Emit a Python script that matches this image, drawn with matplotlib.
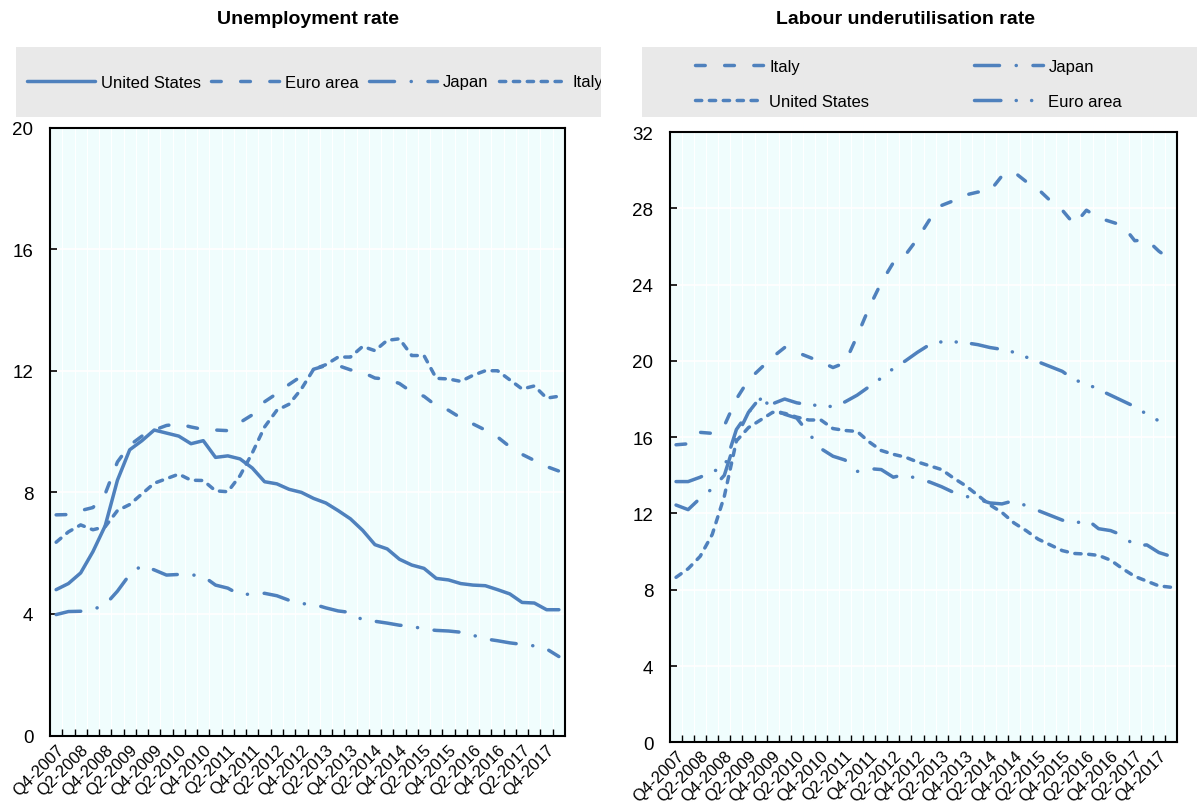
import numpy as np
import matplotlib.pyplot as plt
from matplotlib.patches import Rectangle

plt.rcParams['font.family'] = ['Liberation Sans', 'DejaVu Sans']
plt.rcParams['lines.scale_dashes'] = False

# quarters Q4-2007 .. Q1-2018
quarters = [f'Q{q}-{y}' for y in range(2007, 2019) for q in range(1, 5)][3:45]
tick_labels = quarters[::2]

# Unemployment rate (%)
unemp_us = [4.8, 5.0, 5.35, 6.05, 6.9, 8.4, 9.4, 9.7, 10.05, 9.95, 9.85, 9.6, 9.7, 9.15,
            9.2, 9.1, 8.8, 8.35, 8.28, 8.1, 8.0, 7.8, 7.65, 7.4, 7.13, 6.75, 6.28, 6.14,
            5.8, 5.61, 5.5, 5.17, 5.12, 5.0, 4.95, 4.93, 4.8, 4.66, 4.38, 4.36, 4.14, 4.14]
unemp_euro = [7.26, 7.27, 7.4, 7.5, 7.95, 9.0, 9.55, 9.85, 10.05, 10.2, 10.25, 10.15, 10.07, 10.05,
              10.03, 10.3, 10.55, 10.98, 11.25, 11.55, 11.82, 12.05, 12.17, 12.17, 12.03, 11.95, 11.76, 11.72,
              11.58, 11.3, 11.16, 10.85, 10.7, 10.45, 10.25, 10.05, 9.82, 9.5, 9.25, 9.05, 8.85, 8.7]
unemp_japan = [3.98, 4.08, 4.09, 4.15, 4.3, 4.75, 5.3, 5.6, 5.45, 5.28, 5.3, 5.29, 5.24, 4.95,
               4.85, 4.63, 4.66, 4.68, 4.6, 4.45, 4.34, 4.32, 4.2, 4.1, 4.05, 3.8, 3.76, 3.7,
               3.63, 3.6, 3.5, 3.46, 3.44, 3.4, 3.3, 3.18, 3.12, 3.05, 3.0, 2.95, 2.85, 2.6]
unemp_italy = [6.36, 6.7, 6.93, 6.77, 6.87, 7.4, 7.6, 7.95, 8.3, 8.45, 8.6, 8.4, 8.39, 8.05,
               8.02, 8.55, 9.3, 10.15, 10.7, 10.9, 11.4, 12.05, 12.2, 12.45, 12.45, 12.8, 12.66, 13.0,
               13.05, 12.5, 12.5, 11.75, 11.73, 11.65, 11.85, 12.0, 12.0, 11.7, 11.4, 11.5, 11.1, 11.16]

# Labour underutilisation rate (%)
under_italy = [15.6, 15.65, 16.25, 16.2, 16.6, 18.0, 19.0, 19.6, 20.2, 20.7, 20.45, 20.2, 19.95, 19.65,
               19.9, 21.3, 22.8, 24.1, 25.15, 25.55, 26.4, 27.4, 28.15, 28.4, 28.7, 28.85, 28.9, 29.7,
               29.9, 29.4, 29.0, 28.4, 27.9, 27.15, 27.9, 27.5, 27.3, 27.1, 26.3, 26.35, 25.75, 25.3]
under_us = [8.65, 9.1, 9.75, 10.9, 12.9, 15.8, 16.5, 16.9, 17.3, 17.25, 17.05, 16.9, 16.9, 16.45,
            16.35, 16.3, 15.75, 15.3, 15.1, 14.95, 14.7, 14.5, 14.3, 13.85, 13.45, 12.95, 12.45, 12.05,
            11.5, 11.1, 10.65, 10.35, 10.05, 9.9, 9.87, 9.8, 9.55, 9.1, 8.7, 8.45, 8.2, 8.13]
under_japan = [12.44, 12.2, 12.8, 13.3, 14.0, 16.0, 17.3, 18.1, 17.5, 17.2, 17.0, 16.2, 15.4, 15.0,
               14.8, 14.2, 14.35, 14.3, 13.9, 14.05, 13.8, 13.65, 13.4, 13.1, 12.9, 12.75, 12.55, 12.5,
               12.67, 12.4, 12.15, 11.9, 11.65, 11.45, 11.7, 11.2, 11.1, 10.85, 10.3, 10.35, 9.95, 9.75]
under_euro = [13.67, 13.67, 13.9, 14.2, 14.4, 16.4, 17.3, 18.0, 17.75, 18.0, 17.8, 17.7, 17.65, 17.6,
              17.85, 18.2, 18.65, 19.1, 19.6, 20.0, 20.45, 20.85, 21.0, 21.0, 20.95, 20.85, 20.7, 20.6,
              20.45, 20.2, 19.95, 19.7, 19.45, 19.0, 18.8, 18.5, 18.2, 17.9, 17.6, 17.2, 16.85, 16.6]

blue = '#4F81BD'
solid = '-'
long_dash = (0, (7, 14))
short_dash = (0, (4.5, 5.5))
dash_dot = (0, (18, 12, 0.1, 12))
dash_dot_dot = (0, (19, 11, 0.1, 11, 0.1, 11))

W, H = 1197, 804
fig = plt.figure(figsize=(W / 100, H / 100), dpi=100)


def style_axes(ax, ymax):
    n = len(quarters)
    ax.set_facecolor('#f0fdfd')
    ax.set_xlim(-0.5, n - 0.5)
    ax.set_ylim(0, ymax)
    ax.set_yticks(np.arange(0, ymax + 1, 4))
    ax.set_xticks(np.arange(0.5, n - 1, 1))
    ax.set_xticklabels([])
    ax.set_xticks(np.arange(0, n, 2), tick_labels, minor=True, rotation=45,
                  ha='right', rotation_mode='anchor', fontsize=12)
    ax.tick_params(axis='x', which='major', direction='in', length=5, width=1)
    ax.tick_params(axis='x', which='minor', length=0, pad=4)
    ax.tick_params(axis='y', direction='in', length=5, width=1.2, labelsize=13.5, pad=12)
    ax.grid(axis='y', color='white', lw=1.3)
    ax.grid(axis='x', which='major', color='white', lw=0.8)
    ax.set_axisbelow(True)
    for s in ax.spines.values():
        s.set_linewidth(1.5)
        s.set_color('black')


def px_axes(x0, x1, ytop, ybot):
    return fig.add_axes([x0 / W, 1 - ybot / H, (x1 - x0) / W, (ybot - ytop) / H])


x = np.arange(len(quarters))
kw = dict(color=blue, lw=2.5, dash_capstyle='round', solid_capstyle='round')

# left panel
ax1 = px_axes(50, 565, 128.5, 736.6)
style_axes(ax1, 20)
l_us, = ax1.plot(x, unemp_us, ls=solid, label='United States', **kw)
l_eu, = ax1.plot(x, unemp_euro, ls=long_dash, label='Euro area', **kw)
l_jp, = ax1.plot(x, unemp_japan, ls=dash_dot, label='Japan', **kw)
l_it, = ax1.plot(x, unemp_italy, ls=short_dash, label='Italy', **kw)

# right panel
ax2 = px_axes(670, 1177, 133, 743.3)
style_axes(ax2, 32)
r_it, = ax2.plot(x, under_italy, ls=long_dash, label='Italy', **kw)
r_us, = ax2.plot(x, under_us, ls=short_dash, label='United States', **kw)
r_jp, = ax2.plot(x, under_japan, ls=dash_dot, label='Japan', **kw)
r_eu, = ax2.plot(x, under_euro, ls=dash_dot_dot, label='Euro area', **kw)

# legend backgrounds
box1 = Rectangle((16 / W, 1 - 118 / H), 585 / W, 70 / H, transform=fig.transFigure,
                 facecolor='#e9e9e9', edgecolor='none', zorder=0)
box2 = Rectangle((642 / W, 1 - 118 / H), 555 / W, 70 / H, transform=fig.transFigure,
                 facecolor='#e9e9e9', edgecolor='none', zorder=0)
fig.add_artist(box1)
fig.add_artist(box2)

leg1 = fig.legend(handles=[l_us, l_eu, l_jp, l_it], loc='center left',
                  bbox_to_anchor=(27 / W, 1 - 83 / H), ncol=4, frameon=False,
                  fontsize=12, handlelength=4.1, handletextpad=0.35,
                  columnspacing=0.6, borderpad=0, borderaxespad=0)
for t in leg1.get_texts():
    t.set_clip_path(box1)

leg2 = fig.legend(handles=[r_it, r_us, r_jp, r_eu], loc='center left',
                  bbox_to_anchor=(695 / W, 1 - 85 / H), ncol=2, frameon=False,
                  fontsize=12, handlelength=4.1, handletextpad=0.35,
                  columnspacing=6.3, labelspacing=1.2, borderpad=0, borderaxespad=0)

fig.text(308 / W, 1 - 20 / H, 'Unemployment rate', ha='center', va='center',
         fontsize=14, fontweight='bold')
fig.text(905 / W, 1 - 20 / H, 'Labour underutilisation rate', ha='center', va='center',
         fontsize=14, fontweight='bold')

fig.savefig('out.png', dpi=100)
